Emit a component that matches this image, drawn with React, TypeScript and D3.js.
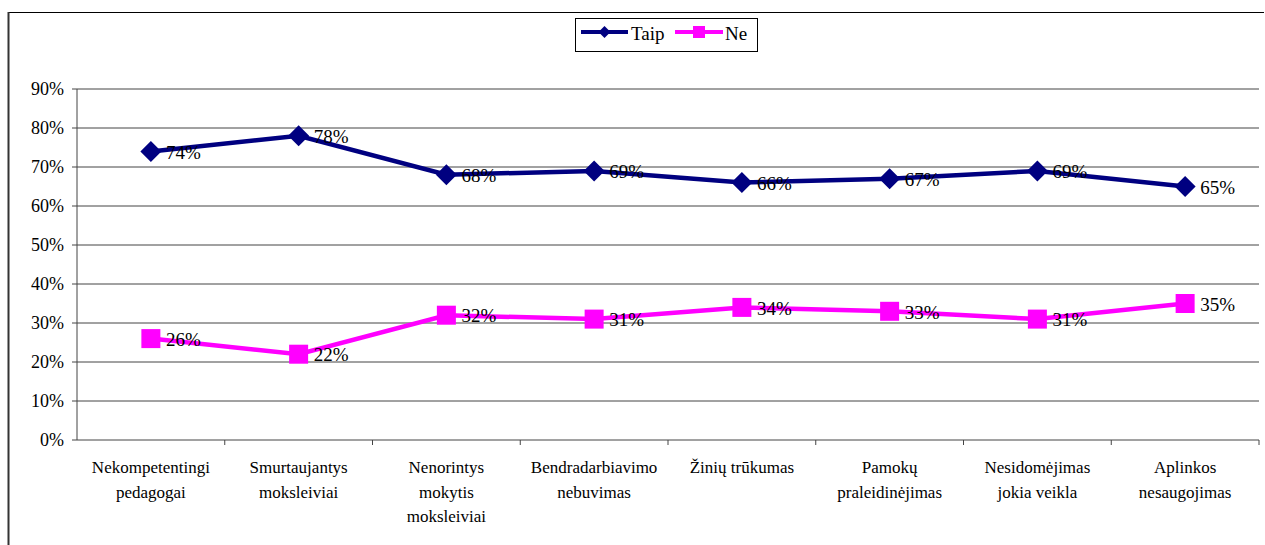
import React from "react";
import * as d3 from "d3";

const categories: string[][] = [
  ["Nekompetentingi", "pedagogai"],
  ["Smurtaujantys", "moksleiviai"],
  ["Nenorintys", "mokytis", "moksleiviai"],
  ["Bendradarbiavimo", "nebuvimas"],
  ["Žinių trūkumas"],
  ["Pamokų", "praleidinėjimas"],
  ["Nesidomėjimas", "jokia veikla"],
  ["Aplinkos", "nesaugojimas"],
];
const taip: number[] = [74, 78, 68, 69, 66, 67, 69, 65];
const ne: number[] = [26, 22, 32, 31, 34, 33, 31, 35];
const yTicks: number[] = [0, 10, 20, 30, 40, 50, 60, 70, 80, 90];
const seriesNames: string[] = ["Taip", "Ne"];

const W = 1265;
const H = 545;
const left = 77;
const right = 1259;
const top = 89;
const bottom = 440;
const FONT = "Liberation Serif, DejaVu Serif, serif";
const NAVY = "#000080";
const MAG = "#FF00FF";

export default function App() {
  const x = d3
    .scaleBand<number>()
    .domain(categories.map((_, i) => i))
    .range([left, right]);
  const y = d3.scaleLinear().domain([0, 90]).range([bottom, top]);
  const cx = (i: number) => (x(i) as number) + x.bandwidth() / 2;
  const line = d3
    .line<number>()
    .x((_, i) => cx(i))
    .y((d) => y(d));

  const diamond = (px: number, py: number, r: number) =>
    `M${px},${py - r}L${px + r},${py}L${px},${py + r}L${px - r},${py}Z`;

  const textStyle = { fontFamily: FONT };

  return (
    <svg
      width={W}
      height={H}
      style={{ position: "absolute", left: 0, top: 0, fontFamily: FONT }}
    >
      <rect x={0} y={0} width={W} height={H} fill="#fff" />
      {/* frame */}
      <line x1={8} x2={1264} y1={12.5} y2={12.5} stroke="#000" strokeWidth={1.2} />
      <line x1={8.5} x2={8.5} y1={12} y2={H} stroke="#333" strokeWidth={2} />

      {/* gridlines */}
      {yTicks.map((t) => (
        <g key={t}>
          {t > 0 && (
            <line
              x1={left}
              x2={right}
              y1={y(t)}
              y2={y(t)}
              stroke="#444"
              strokeWidth={1}
            />
          )}
          <line x1={left - 5} x2={left} y1={y(t)} y2={y(t)} stroke="#444" />
          <text
            x={64}
            y={y(t)}
            dy="0.35em"
            textAnchor="end"
            fontSize={18}
            fill="#000"
            style={textStyle}
          >
            {t}%
          </text>
        </g>
      ))}
      {/* axes */}
      <line x1={left} x2={left} y1={top} y2={bottom} stroke="#444" />
      <line x1={left} x2={right} y1={bottom} y2={bottom} stroke="#444" />
      {categories.map((_, i) => (
        <line
          key={i}
          x1={(x(i) as number) + x.bandwidth()}
          x2={(x(i) as number) + x.bandwidth()}
          y1={bottom}
          y2={bottom + 5}
          stroke="#444"
        />
      ))}
      {/* category labels */}
      {categories.map((lines, i) => (
        <text
          key={i}
          x={cx(i)}
          textAnchor="middle"
          fontSize={17}
          fill="#000"
          style={textStyle}
        >
          {lines.map((l, j) => (
            <tspan key={j} x={cx(i)} y={473 + j * 24.5}>
              {l}
            </tspan>
          ))}
        </text>
      ))}

      {/* Taip series */}
      <path d={line(taip) || ""} fill="none" stroke={NAVY} strokeWidth={4.5} />
      {taip.map((v, i) => (
        <path key={i} d={diamond(cx(i), y(v), 10.5)} fill={NAVY} />
      ))}
      {/* Ne series */}
      <path d={line(ne) || ""} fill="none" stroke={MAG} strokeWidth={4.5} />
      {ne.map((v, i) => (
        <rect
          key={i}
          x={cx(i) - 9.5}
          y={y(v) - 9.5}
          width={19}
          height={19}
          fill={MAG}
        />
      ))}
      {/* data labels */}
      {taip.map((v, i) => (
        <text
          key={"t" + i}
          x={cx(i) + 15}
          y={y(v)}
          dy="0.38em"
          fontSize={19}
          fill="#000"
          style={textStyle}
        >
          {v}%
        </text>
      ))}
      {ne.map((v, i) => (
        <text
          key={"n" + i}
          x={cx(i) + 15}
          y={y(v)}
          dy="0.38em"
          fontSize={19}
          fill="#000"
          style={textStyle}
        >
          {v}%
        </text>
      ))}

      {/* legend */}
      <rect x={575.5} y={18.5} width={182} height={33} fill="#fff" stroke="#000" />
      <line x1={581} x2={628} y1={32} y2={32} stroke={NAVY} strokeWidth={4} />
      <path d={diamond(604.5, 32, 6)} fill={NAVY} />
      <text x={631} y={33} dy="0.35em" fontSize={19} style={textStyle}>
        {seriesNames[0]}
      </text>
      <line x1={675} x2={723} y1={32} y2={32} stroke={MAG} strokeWidth={4} />
      <rect x={693} y={26} width={12} height={12} fill={MAG} />
      <text x={725} y={33} dy="0.35em" fontSize={19} style={textStyle}>
        {seriesNames[1]}
      </text>
    </svg>
  );
}
